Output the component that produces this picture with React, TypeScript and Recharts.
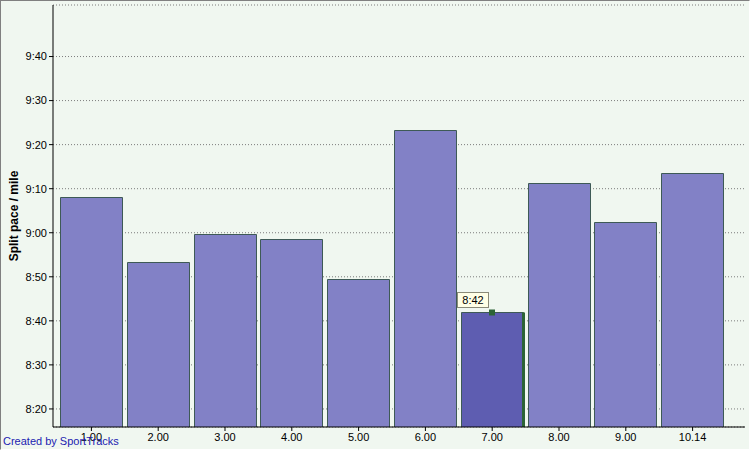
import type { ReactElement } from 'react';
import { Bar, BarChart, CartesianGrid, XAxis, YAxis } from 'recharts';

// split distance labels (miles) and pace per split, in seconds per mile
const splitLabels = ['1.00', '2.00', '3.00', '4.00', '5.00', '6.00', '7.00', '8.00', '9.00', '10.14'];
const splitPaceSeconds = [548, 533.3, 539.8, 538.5, 529.4, 563.4, 522, 551.4, 542.5, 553.6];
const paceTicks = [500, 510, 520, 530, 540, 550, 560, 570, 580];
const paceDomain: [number, number] = [495.9, 591.7];
const highlightedSplit = 6;

const FONT = '"Liberation Sans", Arial, sans-serif';
const BAR_FILL = '#8281c6';
const BAR_FILL_ACTIVE = '#5e5db1';
const BAR_EDGE = '#3e5a56';
const MARKER = '#2c6436';

const data = splitLabels.map((label, i) => ({ label, pace: splitPaceSeconds[i] }));

function formatPace(seconds: number): string {
  const total = Math.round(seconds);
  const m = Math.floor(total / 60);
  const s = total % 60;
  return `${m}:${String(s).padStart(2, '0')}`;
}

interface BarShapeProps {
  readonly x: number;
  readonly y: number;
  readonly width: number;
  readonly height: number;
  readonly index: number;
  readonly value?: number | number[];
  readonly payload?: { pace: number };
}

function SplitBar(raw: unknown): ReactElement {
  const p = raw as BarShapeProps;
  const x = Number(p.x ?? 0);
  const y = Number(p.y ?? 0);
  const width = Number(p.width ?? 0);
  const height = Number(p.height ?? 0);
  if (width <= 0 || height <= 0) {
    return <g />;
  }
  const active = p.index === highlightedSplit;
  const left = Math.round(x) + 0.5;
  const top = Math.round(y) + 0.5;
  const right = Math.round(x + width) - 0.5;
  const bottom = Math.round(y + height);
  const cx = Math.round(x + width / 2);
  const pace = p.payload?.pace ?? 0;

  return (
    <g>
      <rect x={left} y={top} width={right - left} height={bottom - top + 1} fill={active ? BAR_FILL_ACTIVE : BAR_FILL} />
      <path d={`M${left},${bottom}V${top}H${right}V${bottom}`} fill="none" stroke={BAR_EDGE} strokeWidth={1} />
      {active && (
        <g>
          <line x1={right} y1={top} x2={right} y2={bottom} stroke={MARKER} strokeWidth={3} />
          <rect x={cx - 3} y={top - 3} width={6} height={6} fill={MARKER} />
          <rect x={cx - 34.5} y={top - 20} width={31} height={15} fill="#ffffe6" stroke="#8a8a78" />
          <text x={cx - 19} y={top - 8.5} textAnchor="middle" fontSize={11} fontFamily={FONT} fill="#000">
            {formatPace(pace)}
          </text>
        </g>
      )}
    </g>
  );
}

function PaceAxisLabel(props: unknown): ReactElement {
  const vb = (props as { viewBox?: { x: number; y: number; width: number; height: number } }).viewBox;
  const cy = vb ? vb.y + vb.height / 2 : 215;
  return (
    <text
      x={14}
      y={cy}
      transform={`rotate(-90 14 ${cy})`}
      textAnchor="middle"
      dominantBaseline="central"
      fontSize={12}
      fontWeight="bold"
      fontFamily={FONT}
      fill="#000"
    >
      Split pace / mile
    </text>
  );
}

export default function App(): ReactElement {
  return (
    <div
      style={{
        position: 'absolute',
        left: 0,
        top: 0,
        width: 750,
        height: 450,
        background: '#f0f7f0',
        fontFamily: FONT,
        overflow: 'hidden',
      }}
    >
      <BarChart
        width={750}
        height={450}
        data={data}
        margin={{ top: 5, right: 5, bottom: 0, left: 0 }}
        barCategoryGap={2}
      >
        <CartesianGrid horizontal vertical={false} stroke="#7c7c7c" strokeDasharray="1 2" />
        <XAxis
          dataKey="label"
          height={23}
          padding={{ left: 5, right: 19 }}
          axisLine={{ stroke: '#000' }}
          tickLine={{ stroke: '#000' }}
          tickSize={4}
          tickMargin={2}
          tick={{ fill: '#000', fontSize: 11, fontFamily: FONT }}
          interval={0}
        />
        <YAxis
          type="number"
          width={53}
          domain={paceDomain}
          allowDataOverflow
          ticks={paceTicks}
          tickFormatter={formatPace}
          axisLine={{ stroke: '#000' }}
          tickLine={{ stroke: '#000' }}
          tickSize={4}
          tickMargin={2}
          tick={{ fill: '#000', fontSize: 11, fontFamily: FONT }}
          label={<PaceAxisLabel />}
        />
        <Bar dataKey="pace" shape={SplitBar} isAnimationActive={false} />
      </BarChart>
      <div
        style={{
          position: 'absolute',
          left: 3,
          top: 435,
          fontSize: 11,
          lineHeight: '13px',
          color: '#1c1cb0',
          fontFamily: FONT,
        }}
      >
        Created by SportTracks
      </div>
      <div
        style={{
          position: 'absolute',
          inset: 0,
          borderTop: '1px solid #808080',
          borderLeft: '1px solid #808080',
          borderRight: '1px solid #ffffff',
          borderBottom: '1px solid #ffffff',
          pointerEvents: 'none',
        }}
      />
    </div>
  );
}
